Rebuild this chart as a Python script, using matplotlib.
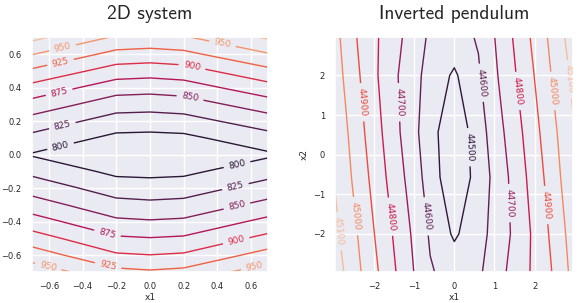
import numpy as np
import matplotlib.pyplot as plt
import seaborn as sns

# 2D system: value grid
x1_2d = [-0.7, -0.2, 0.0, 0.2, 0.7]
x2_2d = [-0.7, -0.6, -0.5, -0.4, -0.3, -0.2, -0.1, 0.0,
         0.1, 0.2, 0.3, 0.4, 0.5, 0.6, 0.7]
v_2d = [
    [965.3, 931.9, 928.3, 931.9, 964.4],
    [938.4, 903.4, 900.6, 903.4, 935.3],
    [911.7, 878.6, 876.2, 878.6, 907.5],
    [886.1, 855.0, 852.4, 854.6, 882.2],
    [862.0, 833.1, 830.6, 832.7, 857.8],
    [839.5, 813.6, 811.4, 813.2, 835.5],
    [819.1, 794.0, 793.0, 794.5, 815.6],
    [798.0, 791.0, 790.0, 791.0, 796.2],
    [818.1, 794.0, 793.0, 794.5, 815.6],
    [840.4, 814.3, 813.1, 815.4, 838.0],
    [865.9, 836.4, 835.0, 837.7, 863.3],
    [892.0, 861.6, 859.5, 863.0, 890.4],
    [921.0, 888.9, 886.4, 889.8, 918.7],
    [951.2, 917.6, 914.9, 918.7, 948.2],
    [981.7, 947.1, 944.1, 947.2, 978.3],
]
levels_2d = [800, 825, 850, 875, 900, 925, 950, 975]

# inverted pendulum
x1_ip = [-2.96, -2.4, -1.8, -1.2, -0.6, 0.0, 0.6, 1.2, 1.8, 2.4, 2.96]
x2_ip = [-2.96, -2.0, -0.57, 0.57, 2.0, 2.96]
v_ip = [
    [45149, 45019, 44880, 44743, 44609, 44560, 44583, 44685, 44785, 44894, 45029],
    [45122, 44998, 44856, 44727, 44588, 44485, 44564, 44662, 44778, 44912, 45045],
    [45091, 44964, 44823, 44692, 44554, 44422, 44538, 44667, 44801, 44939, 45078],
    [45078, 44939, 44801, 44667, 44538, 44422, 44554, 44692, 44823, 44964, 45091],
    [45045, 44912, 44778, 44662, 44564, 44485, 44588, 44727, 44856, 44998, 45122],
    [45029, 44894, 44785, 44685, 44583, 44560, 44609, 44743, 44880, 45019, 45149],
]
levels_ip = [44500, 44600, 44700, 44800, 44900, 45000, 45100]

sns.set_theme(style="darkgrid")
plt.rcParams['font.family'] = ['DejaVu Sans']

fig = plt.figure(figsize=(5.81, 3.03), dpi=100)
ax1 = fig.add_axes([0.055, 0.1023, 0.406, 0.7746])
ax2 = fig.add_axes([0.5771, 0.1023, 0.4096, 0.7746])

cs1 = ax1.contour(x1_2d, x2_2d, np.array(v_2d), levels=levels_2d,
                  colors=sns.color_palette("rocket", len(levels_2d)), linewidths=1.0)
pos1 = [(-0.52, 0.645), (-0.53, 0.548), (-0.54, 0.377), (-0.52, 0.175),
        (-0.53, 0.049), (0.25, 0.528), (0.24, 0.348), (0.43, 0.658),
        (0.515, -0.05), (0.506, -0.184), (0.515, -0.30), (-0.25, -0.462),
        (0.51, -0.505), (-0.6, -0.656), (-0.25, -0.67), (0.62, -0.67)]
ax1.clabel(cs1, inline=True, fontsize=6.5, manual=pos1)
ax1.set_xlim(-0.7, 0.7)
ax1.set_ylim(-0.7, 0.7)
ax1.set_xticks([-0.6, -0.4, -0.2, 0.0, 0.2, 0.4, 0.6])
ax1.set_yticks([-0.6, -0.4, -0.2, 0.0, 0.2, 0.4, 0.6])
ax1.set_title('2D system', fontfamily='cmss10', fontsize=14, pad=13)
ax1.set_xlabel('x1', fontsize=6.5, labelpad=1)

cs2 = ax2.contour(x1_ip, x2_ip, np.array(v_ip), levels=levels_ip,
                  colors=sns.color_palette("rocket", len(levels_ip)), linewidths=1.0)
pos2 = [(-2.30, 1.32), (-1.43, 1.32), (0.73, 1.82), (1.60, 1.61),
        (2.47, 1.61), (2.89, 1.9), (0.40, 0.19), (-2.55, -1.56),
        (-2.88, -1.93), (-1.55, -1.56), (-0.72, -1.56), (1.43, -1.22),
        (2.31, -1.27)]
ax2.clabel(cs2, inline=True, fontsize=6.5, manual=pos2)
ax2.set_xlim(-2.96, 2.96)
ax2.set_ylim(-2.96, 2.96)
ax2.set_xticks([-2, -1, 0, 1, 2])
ax2.set_yticks([-2, -1, 0, 1, 2])
ax2.set_title('Inverted pendulum', fontfamily='cmss10', fontsize=14, pad=13)
ax2.set_xlabel('x1', fontsize=6.5, labelpad=1)
ax2.set_ylabel('x2', fontsize=6.5, labelpad=3)

for ax in (ax1, ax2):
    ax.tick_params(labelsize=6, pad=1.5)

fig.savefig('out.png', dpi=100)
